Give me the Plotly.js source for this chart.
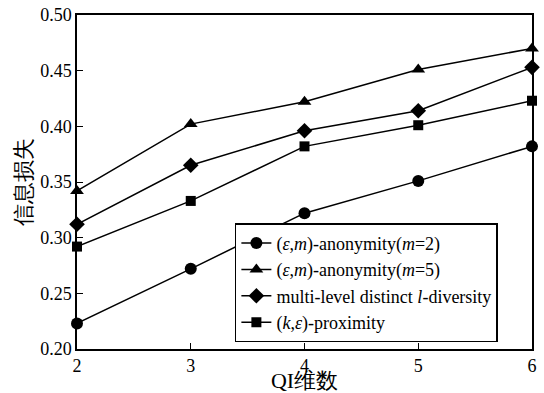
<!DOCTYPE html>
<html><head><meta charset="utf-8">
<script src="https://cdn.plot.ly/plotly-3.0.1.min.js"></script>
<style>body{margin:0;background:#fff}#c{width:544px;height:393px}</style>
</head><body><div id="c"></div>
<script>
const qi = [2, 3, 4, 5, 6];
const anonM2 = [0.223, 0.272, 0.322, 0.351, 0.382];
const anonM5 = [0.342, 0.402, 0.422, 0.451, 0.470];
const multiL = [0.312, 0.365, 0.396, 0.414, 0.453];
const proximity = [0.292, 0.333, 0.382, 0.401, 0.423];
const names = ['(<i>ε</i>,<i>m</i>)-anonymity(<i>m</i>=2)', '(<i>ε</i>,<i>m</i>)-anonymity(<i>m</i>=5)', 'multi-level distinct <i>l</i>-diversity', '(<i>k</i>,<i>ε</i>)-proximity'];
const series = [anonM2, anonM5, multiL, proximity];
const symbols = ['circle', 'triangle-up', 'diamond', 'square'];
const sizes = [12, 12, 12, 10];
const traces = series.map((s, i) => ({
  x: qi, y: s, name: names[i], type: 'scatter', mode: 'lines+markers',
  line: {color: '#000', width: 1.5},
  marker: {symbol: symbols[i], size: sizes[i], color: '#000'},
  cliponaxis: false
}));
const layout = {
  width: 544, height: 393,
  margin: {l: 77, r: 12, t: 15, b: 44},
  paper_bgcolor: '#fff', plot_bgcolor: '#fff',
  font: {family: 'Times New Roman', size: 18, color: '#000'},
  showlegend: true,
  legend: {x: 0.347, y: 0.02, xanchor: 'left', yanchor: 'bottom', bordercolor: '#000', borderwidth: 1.5,
    bgcolor: '#fff', tracegroupgap: 0, itemwidth: 30},
  xaxis: {range: [2, 6], tickvals: qi, ticks: 'inside', ticklen: 6, tickcolor: '#000',
    showline: true, linecolor: '#000', linewidth: 1.5, mirror: true, showgrid: false, zeroline: false,
    automargin: false,
    title: {text: 'QI维数', standoff: 6}},
  yaxis: {range: [0.2, 0.5], dtick: 0.05, tickformat: '.2f', ticks: 'inside', ticklen: 6, tickcolor: '#000',
    showline: true, linecolor: '#000', linewidth: 1.5, mirror: true, showgrid: false, zeroline: false,
    title: {text: '信息损失', standoff: 2}}
};
Plotly.newPlot('c', traces, layout, {displayModeBar: false});
</script></body></html>
